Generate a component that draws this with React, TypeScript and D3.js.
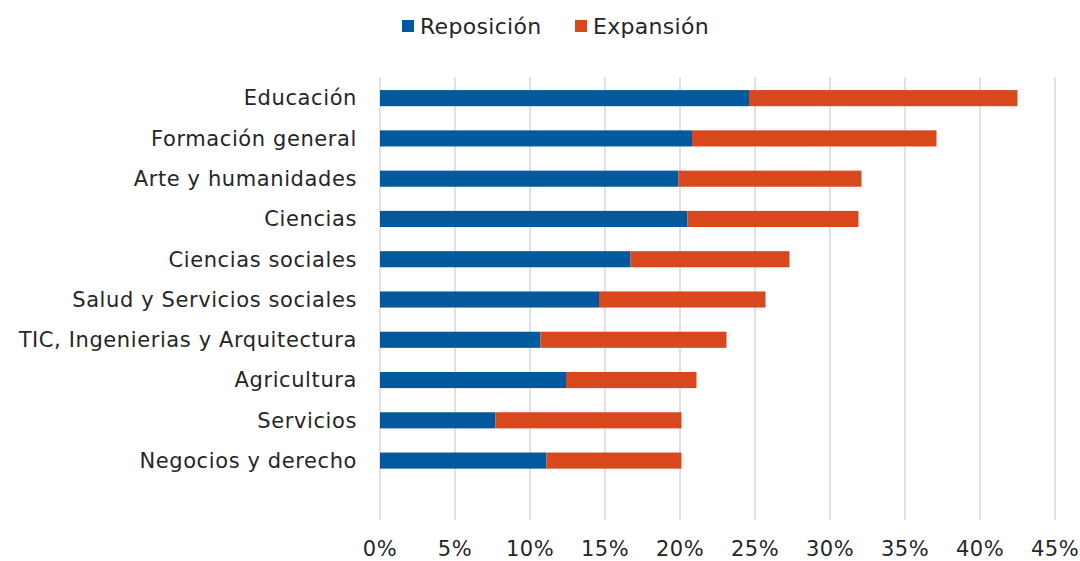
import React, { useEffect, useRef } from 'react';
import * as d3 from 'd3';

const categories = [
  'Educación',
  'Formación general',
  'Arte y humanidades',
  'Ciencias',
  'Ciencias sociales',
  'Salud y Servicios sociales',
  'TIC, Ingenierias y Arquitectura',
  'Agricultura',
  'Servicios',
  'Negocios y derecho',
];
const reposicion = [24.6, 20.8, 19.9, 20.5, 16.7, 14.6, 10.7, 12.4, 7.7, 11.1];
const expansion = [17.9, 16.3, 12.2, 11.4, 10.6, 11.1, 12.4, 8.7, 12.4, 9.0];
const tickValues = [0, 5, 10, 15, 20, 25, 30, 35, 40, 45];
const seriesNames = ['Reposición', 'Expansión'];
const colors = ['#02599d', '#d9481c'];

const W = 1080;
const H = 561;
const FONT = "'Century Gothic', 'DejaVu Sans', sans-serif";

const App: React.FC = () => {
  const svgRef = useRef<SVGSVGElement | null>(null);

  useEffect(() => {
    if (!svgRef.current) return;
    const svg = d3.select(svgRef.current);
    svg.selectAll('*').remove();

    const left = 380, right = 1055, top = 77, bottom = 520;
    const x = d3.scaleLinear().domain([0, 45]).range([left, right]);
    // blank slot at the bottom, like the source chart
    const y = d3.scaleBand<string>()
      .domain([...categories, ''])
      .range([top + 1, bottom + 1])
      .paddingInner(0.6)
      .paddingOuter(0.3);

    // gridlines
    svg.append('g')
      .selectAll('line')
      .data(tickValues)
      .enter()
      .append('line')
      .attr('x1', d => x(d))
      .attr('x2', d => x(d))
      .attr('y1', top)
      .attr('y2', bottom)
      .attr('stroke', '#dde2ea')
      .attr('stroke-width', 2);

    const rows = categories.map((c, i) => ({ cat: c, rep: reposicion[i], exp: expansion[i] }));
    const stack = d3.stack<{ cat: string; rep: number; exp: number }>().keys(['rep', 'exp']);
    const layers = stack(rows);

    svg.append('g')
      .selectAll('g')
      .data(layers)
      .enter()
      .append('g')
      .attr('fill', (_, i) => colors[i])
      .selectAll('rect')
      .data(d => d)
      .enter()
      .append('rect')
      .attr('x', d => x(d[0]))
      .attr('width', d => x(d[1]) - x(d[0]))
      .attr('y', d => y(d.data.cat) as number)
      .attr('height', y.bandwidth());

    // category labels
    svg.append('g')
      .selectAll('text')
      .data(categories)
      .enter()
      .append('text')
      .attr('x', left - 23)
      .attr('y', d => (y(d) as number) + y.bandwidth() / 2)
      .attr('dy', '0.35em')
      .attr('text-anchor', 'end')
      .attr('font-family', FONT)
      .attr('font-size', 21)
      .attr('letter-spacing', 0.6)
      .attr('fill', '#262626')
      .text(d => d);

    // tick labels
    svg.append('g')
      .selectAll('text')
      .data(tickValues)
      .enter()
      .append('text')
      .attr('x', d => x(d))
      .attr('y', 549)
      .attr('dy', '0.35em')
      .attr('text-anchor', 'middle')
      .attr('font-family', FONT)
      .attr('font-size', 21)
      .attr('letter-spacing', 0.5)
      .attr('fill', '#262626')
      .text(d => `${d}%`);

    // legend
    const legend = svg.append('g');
    const lx = [402, 575];
    seriesNames.forEach((name, i) => {
      legend.append('rect')
        .attr('x', lx[i])
        .attr('y', 20)
        .attr('width', 12)
        .attr('height', 12)
        .attr('fill', colors[i]);
      legend.append('text')
        .attr('x', lx[i] + 18)
        .attr('y', 26)
        .attr('dy', '0.35em')
        .attr('font-family', FONT)
        .attr('font-size', 22)
        .attr('letter-spacing', 0.3)
        .attr('fill', '#262626')
        .text(name);
    });
  }, []);

  return (
    <svg
      ref={svgRef}
      width={W}
      height={H}
      style={{ position: 'absolute', left: 0, top: 0, background: '#fff' }}
    />
  );
};

export default App;
